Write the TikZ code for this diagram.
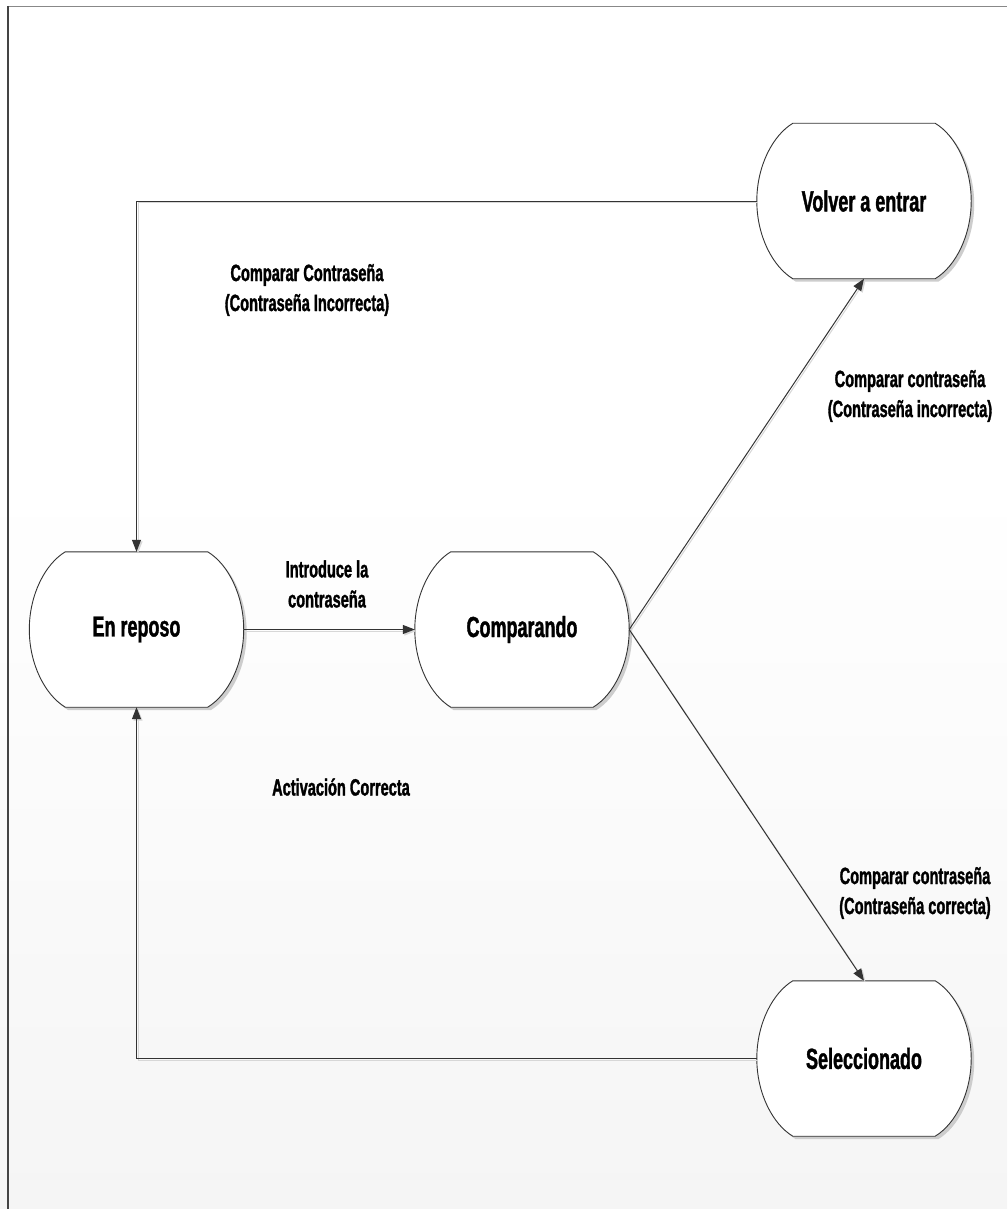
\documentclass[tikz,border=0pt]{standalone}
\usepackage{fontspec}
\newfontfamily\cond{Liberation Sans Bold}[FakeStretch=0.62, FakeBold=1.3]
\usetikzlibrary{arrows.meta,calc}
\definecolor{bgb}{RGB}{245,245,245}
\definecolor{linec}{RGB}{51,51,51}
\definecolor{shadowc}{RGB}{205,205,205}
\definecolor{cshadow}{RGB}{215,215,215}
\definecolor{frametop}{RGB}{136,136,136}
\definecolor{frameleft}{RGB}{68,68,68}
\pgfdeclarelayer{back}
\pgfdeclarelayer{bg}
\pgfsetlayers{back,bg,main}
\tikzset{
  statenode/.style={rectangle, minimum width=214pt, minimum height=155pt, inner sep=0pt,
    font=\cond\fontsize{29}{34}\selectfont},
  lbl/.style={align=center, inner sep=0pt, font=\cond\fontsize{23.5}{30}\selectfont},
  conn/.style={draw=linec, line width=1pt,
    preaction={draw=cshadow, line width=1pt, transform canvas={shift={(1.5pt,-1.5pt)}}}},
  arr/.style={conn, -{Triangle[length=12pt,width=9pt]}},
  outline/.style={draw=linec, line width=0.9pt, fill=white},
  shadowfill/.style={fill=shadowc, draw=none, transform canvas={shift={(3pt,-3pt)}}},
}
\newcommand\stateshape[1]{%
  \begin{pgfonlayer}{bg}
  \path[shadowfill] ($(#1.north west)+(36,0)$) -- ($(#1.north east)+(-36,0)$)
    .. controls +(20,12) and +(0,-35) .. (#1.east)
    .. controls +(0,35) and +(20,-12) .. ($(#1.south east)+(-36,0)$)
    -- ($(#1.south west)+(36,0)$)
    .. controls +(-20,-12) and +(0,35) .. (#1.west)
    .. controls +(0,-35) and +(-20,12) .. ($(#1.north west)+(36,0)$) -- cycle;
  \path[outline] ($(#1.north west)+(36,0)$) -- ($(#1.north east)+(-36,0)$)
    .. controls +(20,12) and +(0,-35) .. (#1.east)
    .. controls +(0,35) and +(20,-12) .. ($(#1.south east)+(-36,0)$)
    -- ($(#1.south west)+(36,0)$)
    .. controls +(-20,-12) and +(0,35) .. (#1.west)
    .. controls +(0,-35) and +(-20,12) .. ($(#1.north west)+(36,0)$) -- cycle;
  \end{pgfonlayer}}
\begin{document}
\begin{tikzpicture}[x=1pt, y=-1pt]
\begin{pgfonlayer}{back}
  \useasboundingbox (0,0) rectangle (1007,1209);
  \fill[white] (0,0) rectangle (1007,481);
  \fill[top color=white, bottom color=bgb] (0,480) rectangle (1007,1209);
  \draw[frametop, line width=1.5pt] (8,6.5) -- (1007,6.5);
  \draw[frameleft, line width=1.5pt] (8,6) -- (8,1209);
\end{pgfonlayer}

% states
\node[statenode] (reposo) at (136.5,629.5) {En reposo};
\node[statenode] (comp) at (522,629.5) {Comparando};
\node[statenode] (volver) at (864,201) {Volver a entrar};
\node[statenode] (sel) at (864,1058.5) {Seleccionado};
\stateshape{reposo}
\stateshape{comp}
\stateshape{volver}
\stateshape{sel}

% connectors
\draw[arr] (reposo.east) -- (comp.west);
\draw[arr] (comp.east) -- (volver.south);
\draw[arr] (comp.east) -- (sel.north);
\draw[arr] (volver.west) -| (reposo.north);
\draw[arr] (sel.west) -| (reposo.south);

% labels
\node[lbl] (l1) at (307,290) {Comparar Contraseña\\(Contraseña Incorrecta)};
\node[lbl] (l2) at (327,584) {Introduce la\\contraseña};
\node[lbl] (l3) at (910,396) {Comparar contraseña\\(Contraseña incorrecta)};
\node[lbl] (l4) at (915,893) {Comparar contraseña\\(Contraseña correcta)};
\node[lbl] (l5) at (341,787) {Activación Correcta};
\end{tikzpicture}
\end{document}
